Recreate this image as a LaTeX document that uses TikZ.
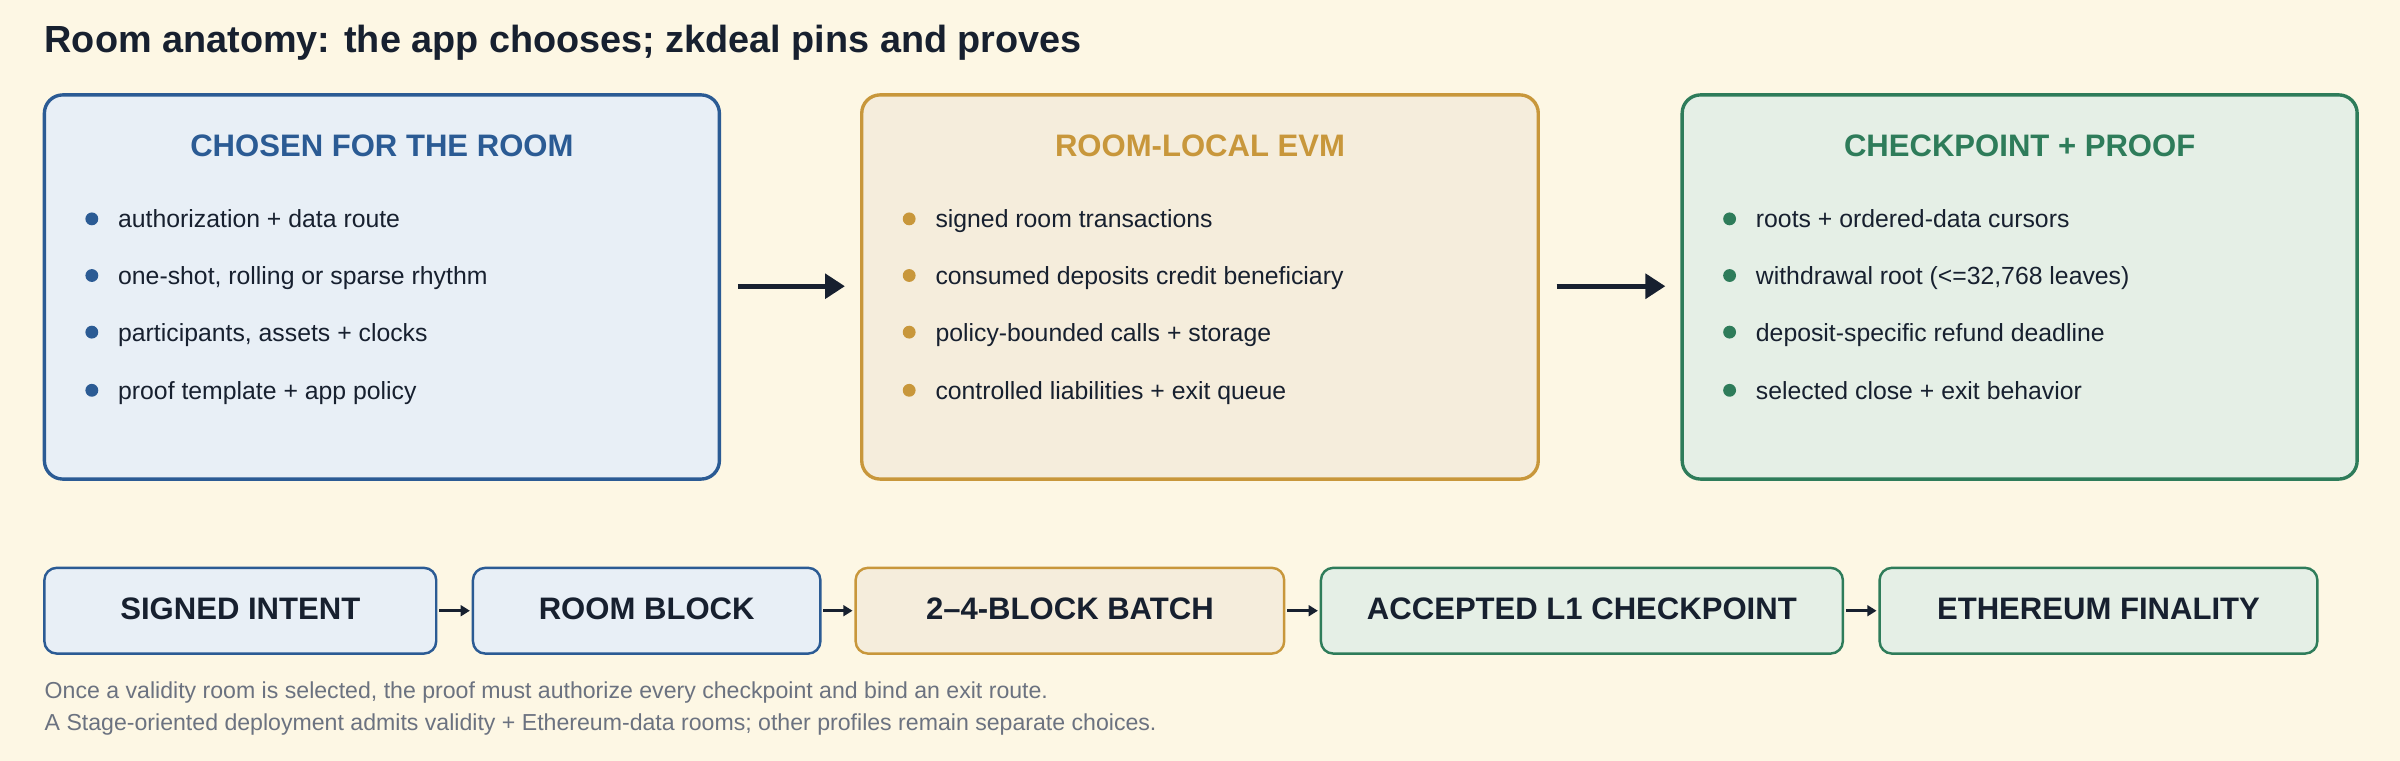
\documentclass[tikz,border=0pt]{standalone}
\usepackage{fontspec}
\setmainfont{Liberation Sans}
\usetikzlibrary{arrows.meta}
\definecolor{bg}{HTML}{FDF7E4}
\definecolor{ink}{HTML}{17202F}
\definecolor{bstroke}{HTML}{2B5B94}\definecolor{bfill}{HTML}{E8EFF6}
\definecolor{gstroke}{HTML}{C8973B}\definecolor{gfill}{HTML}{F5EDDC}
\definecolor{tstroke}{HTML}{2E7C5A}\definecolor{tfill}{HTML}{E5EFE6}
\definecolor{note}{HTML}{6B7280}
\begin{document}
\begin{tikzpicture}[x=1pt,y=-1pt,
  big/.style={rounded corners=12pt,line width=2.2pt},
  small/.style={rounded corners=8pt,line width=1.6pt},
  head/.style={font=\fontsize{20.3}{24}\selectfont\bfseries,anchor=center},
  item/.style={font=\fontsize{16.2}{19}\selectfont,text=ink,anchor=base west,inner sep=0},
  stage/.style={font=\fontsize{20.3}{24}\selectfont\bfseries,text=ink,anchor=center},
  conn/.style={ink,line width=3pt,-{Triangle[length=13pt,width=16pt]}},
  sconn/.style={ink,line width=1.6pt,-{Triangle[length=6pt,width=7pt]}}]
\fill[bg] (0,0) rectangle (1568,497);
\useasboundingbox (0,0) rectangle (1568,497);
\node[anchor=west,inner sep=0,text=ink,font=\fontsize{24.7}{28}\selectfont\bfseries] (title) at (29,28) {Room anatomy: the app chooses; zkdeal pins and proves};
% big boxes
\draw[big,draw=bstroke,fill=bfill] (29,62) rectangle (470,313);
\draw[big,draw=gstroke,fill=gfill] (563,62) rectangle (1005,313);
\draw[big,draw=tstroke,fill=tfill] (1099,62) rectangle (1540,313);
\node[head,text=bstroke] (h1) at (249.5,95) {CHOSEN FOR THE ROOM};
\node[head,text=gstroke] (h2) at (784,95) {ROOM-LOCAL EVM};
\node[head,text=tstroke] (h3) at (1319.5,95) {CHECKPOINT + PROOF};
\foreach \c/\x/\n/\a/\b/\cc/\d in {
 bstroke/60/a/{authorization + data route}/{one-shot, rolling or sparse rhythm}/{participants, assets + clocks}/{proof template + app policy},
 gstroke/594/b/{signed room transactions}/{consumed deposits credit beneficiary}/{policy-bounded calls + storage}/{controlled liabilities + exit queue},
 tstroke/1130/c/{roots + ordered-data cursors}/{withdrawal root (<=32,768 leaves)}/{deposit-specific refund deadline}/{selected close + exit behavior}}{
 \foreach \y/\t/\k in {143/\a/1,180/\b/2,217/\cc/3,255/\d/4}{
  \fill[\c] (\x,\y) circle (4.2);
  \node[item] (\n\k) at (\x+17,\y+5.8) {\t};
 }}
\coordinate (a1s) at (482,187); \coordinate (a1e) at (552,187);
\coordinate (a2s) at (1017,187); \coordinate (a2e) at (1088,187);
\draw[conn] (a1s) -- (a1e);
\draw[conn] (a2s) -- (a2e);
% stages
\draw[small,draw=bstroke,fill=bfill] (29,371) rectangle (285,427);
\draw[small,draw=bstroke,fill=bfill] (309,371) rectangle (536,427);
\draw[small,draw=gstroke,fill=gfill] (559,371) rectangle (839,427);
\draw[small,draw=tstroke,fill=tfill] (863,371) rectangle (1204,427);
\draw[small,draw=tstroke,fill=tfill] (1228,371) rectangle (1514,427);
\node[stage] (s1) at (157,398) {SIGNED INTENT};
\node[stage] (s2) at (422.5,398) {ROOM BLOCK};
\node[stage] (s3) at (699,398) {2–4-BLOCK BATCH};
\node[stage] (s4) at (1033.5,398) {ACCEPTED L1 CHECKPOINT};
\node[stage] (s5) at (1371,398) {ETHEREUM FINALITY};
\foreach \l/\r in {287/307,538/557,841/861,1206/1226}{
 \coordinate (p) at (\l,399); \coordinate (q) at (\r,399);
 \draw[sconn] (p) -- (q);}
\node[anchor=base west,inner sep=0,text=note,font=\fontsize{15.1}{18}\selectfont] (f1) at (29,456.5) {Once a validity room is selected, the proof must authorize every checkpoint and bind an exit route.};
\node[anchor=base west,inner sep=0,text=note,font=\fontsize{15.1}{18}\selectfont] (f2) at (29,477.5) {A Stage-oriented deployment admits validity + Ethereum-data rooms; other profiles remain separate choices.};
\end{tikzpicture}
\end{document}
